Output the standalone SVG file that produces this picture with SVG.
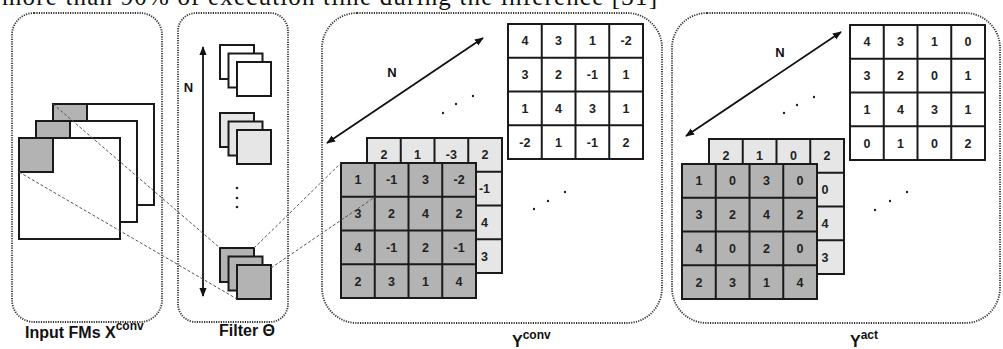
<svg xmlns="http://www.w3.org/2000/svg" xmlns:xlink="http://www.w3.org/1999/xlink" width="1003" height="349" viewBox="0 0 1003 349">
<style>
.panel{fill:none;stroke:#333;stroke-width:1.8;stroke-dasharray:1.2 1.2}
.sq{stroke:#1a1a1a;stroke-width:2}
.w{fill:#fff}.lg{fill:#e6e6e6}.dg{fill:#b3b3b3}
.n{font-family:"Liberation Sans",Arial,sans-serif;font-weight:bold;font-size:12.5px;text-anchor:middle;fill:#222}
.lbl{font-family:"Liberation Sans",Arial,sans-serif;font-weight:bold;font-size:16px;fill:#111}
.sup{font-size:12px}
.dash{stroke:#555;stroke-width:1;stroke-dasharray:3 2;fill:none}
.arr{stroke:#111;stroke-width:1.8;fill:none;marker-start:url(#ah);marker-end:url(#ah)}
.dot{fill:#222}
.top{font-family:"Liberation Serif","Times New Roman",serif;font-size:25px;fill:#111}
</style>
<defs>
<marker id="ah" viewBox="0 0 10 10" refX="9" refY="5" markerWidth="5" markerHeight="5" orient="auto-start-reverse"><path d="M0,1 L10,5 L0,9 z" fill="#111"/></marker>
<g id="g4"><rect width="135" height="135"/><path d="M33.75 0V135M67.5 0V135M101.25 0V135M0 33.75H135M0 67.5H135M0 101.25H135" fill="none"/></g>
<rect id="fsq" width="34" height="34"/>
<rect id="fm" width="101" height="101"/>
<rect id="patch" width="34" height="34"/>
</defs>
<rect width="1003" height="349" fill="#fff"/>
<text class="top" x="2" y="5" textLength="655" lengthAdjust="spacing">more than 90% of execution time during the inference [31]</text>

<g id="input-fms">
<rect class="panel" x="12" y="13" width="150" height="309" rx="22"/>
<use href="#fm" x="53" y="104" class="sq w"/>
<use href="#patch" x="53" y="104" class="sq dg"/>
<use href="#fm" x="36" y="121" class="sq w"/>
<use href="#patch" x="36" y="121" class="sq dg"/>
<use href="#fm" x="19" y="138" class="sq w"/>
<use href="#patch" x="19" y="138" class="sq dg"/>
<text class="lbl" x="25" y="338">Input FMs X<tspan class="sup" dy="-8">conv</tspan></text>
</g>

<g id="filter">
<rect class="panel" x="178" y="13" width="110" height="309" rx="18"/>
<line class="arr" x1="203" y1="47" x2="203" y2="296"/>
<text class="lbl" x="188.5" y="92" text-anchor="middle" style="font-size:13px">N</text>
<use href="#fsq" x="220" y="45" class="sq w"/>
<use href="#fsq" x="228.5" y="53.5" class="sq w"/>
<use href="#fsq" x="237" y="62" class="sq w"/>
<use href="#fsq" x="220" y="113" class="sq lg"/>
<use href="#fsq" x="228.5" y="121.5" class="sq lg"/>
<use href="#fsq" x="237" y="130" class="sq lg"/>
<circle class="dot" cx="237" cy="188" r="1.3"/>
<circle class="dot" cx="237" cy="198" r="1.3"/>
<circle class="dot" cx="237" cy="207" r="1.3"/>
<use href="#fsq" x="220" y="248" class="sq dg"/>
<use href="#fsq" x="228.5" y="256.5" class="sq dg"/>
<use href="#fsq" x="237" y="265" class="sq dg"/>
<text class="lbl" x="247" y="336" text-anchor="middle">Filter Θ</text>
</g>

<g id="y-conv">
<rect class="panel" x="322" y="13" width="340" height="310" rx="35"/>
<line class="arr" x1="327" y1="143" x2="483" y2="38"/>
<text class="lbl" x="392" y="77" text-anchor="middle" style="font-size:13px">N</text>
<circle class="dot" cx="443" cy="113" r="1.2"/><circle class="dot" cx="456" cy="104" r="1.2"/><circle class="dot" cx="473" cy="96" r="1.2"/>
<circle class="dot" cx="534" cy="209" r="1.2"/><circle class="dot" cx="548" cy="201" r="1.2"/><circle class="dot" cx="565" cy="192" r="1.2"/>
<use href="#g4" x="508" y="24" class="sq w"/>
<text class="n" x="524.9" y="45.2">4</text><text class="n" x="558.6" y="45.2">3</text><text class="n" x="592.4" y="45.2">1</text><text class="n" x="626.1" y="45.2">-2</text>
<text class="n" x="524.9" y="79">3</text><text class="n" x="558.6" y="79">2</text><text class="n" x="592.4" y="79">-1</text><text class="n" x="626.1" y="79">1</text>
<text class="n" x="524.9" y="112.7">1</text><text class="n" x="558.6" y="112.7">4</text><text class="n" x="592.4" y="112.7">3</text><text class="n" x="626.1" y="112.7">1</text>
<text class="n" x="524.9" y="146.5">-2</text><text class="n" x="558.6" y="146.5">1</text><text class="n" x="592.4" y="146.5">-1</text><text class="n" x="626.1" y="146.5">2</text>
<use href="#g4" x="367" y="138" class="sq lg"/>
<text class="n" x="383.9" y="159.2">2</text><text class="n" x="417.6" y="159.2">1</text><text class="n" x="451.4" y="159.2">-3</text><text class="n" x="485.1" y="159.2">2</text>
<text class="n" x="484.5" y="193">-1</text><text class="n" x="484.5" y="226.7">4</text><text class="n" x="484.5" y="260.5">3</text>
<use href="#g4" x="341" y="163" class="sq dg"/>
<text class="n" x="357.9" y="184.2">1</text><text class="n" x="391.6" y="184.2">-1</text><text class="n" x="425.4" y="184.2">3</text><text class="n" x="459.1" y="184.2">-2</text>
<text class="n" x="357.9" y="218">3</text><text class="n" x="391.6" y="218">2</text><text class="n" x="425.4" y="218">4</text><text class="n" x="459.1" y="218">2</text>
<text class="n" x="357.9" y="251.7">4</text><text class="n" x="391.6" y="251.7">-1</text><text class="n" x="425.4" y="251.7">2</text><text class="n" x="459.1" y="251.7">-1</text>
<text class="n" x="357.9" y="285.5">2</text><text class="n" x="391.6" y="285.5">3</text><text class="n" x="425.4" y="285.5">1</text><text class="n" x="459.1" y="285.5">4</text>
<text class="lbl" x="512" y="347">Y<tspan class="sup" dy="-8">conv</tspan></text>
</g>

<g id="y-act">
<rect class="panel" x="672" y="13" width="328" height="310" rx="35"/>
<line class="arr" x1="686" y1="136" x2="841" y2="32"/>
<text class="lbl" x="780" y="57" text-anchor="middle" style="font-size:13px">N</text>
<circle class="dot" cx="784" cy="113" r="1.2"/><circle class="dot" cx="797" cy="105" r="1.2"/><circle class="dot" cx="814" cy="97" r="1.2"/>
<circle class="dot" cx="875" cy="210" r="1.2"/><circle class="dot" cx="890" cy="201" r="1.2"/><circle class="dot" cx="907" cy="192" r="1.2"/>
<use href="#g4" x="850" y="25" class="sq w"/>
<text class="n" x="866.9" y="46.2">4</text><text class="n" x="900.6" y="46.2">3</text><text class="n" x="934.4" y="46.2">1</text><text class="n" x="968.1" y="46.2">0</text>
<text class="n" x="866.9" y="80">3</text><text class="n" x="900.6" y="80">2</text><text class="n" x="934.4" y="80">0</text><text class="n" x="968.1" y="80">1</text>
<text class="n" x="866.9" y="113.7">1</text><text class="n" x="900.6" y="113.7">4</text><text class="n" x="934.4" y="113.7">3</text><text class="n" x="968.1" y="113.7">1</text>
<text class="n" x="866.9" y="147.5">0</text><text class="n" x="900.6" y="147.5">1</text><text class="n" x="934.4" y="147.5">0</text><text class="n" x="968.1" y="147.5">2</text>
<use href="#g4" x="709" y="139" class="sq lg"/>
<text class="n" x="725.9" y="160.2">2</text><text class="n" x="759.6" y="160.2">1</text><text class="n" x="793.4" y="160.2">0</text><text class="n" x="827.1" y="160.2">2</text>
<text class="n" x="825" y="194">0</text><text class="n" x="825" y="227.7">4</text><text class="n" x="825" y="261.5">3</text>
<use href="#g4" x="682" y="164" class="sq dg"/>
<text class="n" x="698.9" y="185.2">1</text><text class="n" x="732.6" y="185.2">0</text><text class="n" x="766.4" y="185.2">3</text><text class="n" x="800.1" y="185.2">0</text>
<text class="n" x="698.9" y="219">3</text><text class="n" x="732.6" y="219">2</text><text class="n" x="766.4" y="219">4</text><text class="n" x="800.1" y="219">2</text>
<text class="n" x="698.9" y="252.7">4</text><text class="n" x="732.6" y="252.7">0</text><text class="n" x="766.4" y="252.7">2</text><text class="n" x="800.1" y="252.7">0</text>
<text class="n" x="698.9" y="286.5">2</text><text class="n" x="732.6" y="286.5">3</text><text class="n" x="766.4" y="286.5">1</text><text class="n" x="800.1" y="286.5">4</text>
<text class="lbl" x="850" y="347">Y<tspan class="sup" dy="-8">act</tspan></text>
</g>

<g id="connectors">
<line class="dash" x1="53" y1="104" x2="220" y2="248"/>
<line class="dash" x1="19" y1="172" x2="237" y2="299"/>
<line class="dash" x1="254" y1="248" x2="341" y2="163"/>
<line class="dash" x1="271" y1="268" x2="375" y2="197"/>
</g>
</svg>
